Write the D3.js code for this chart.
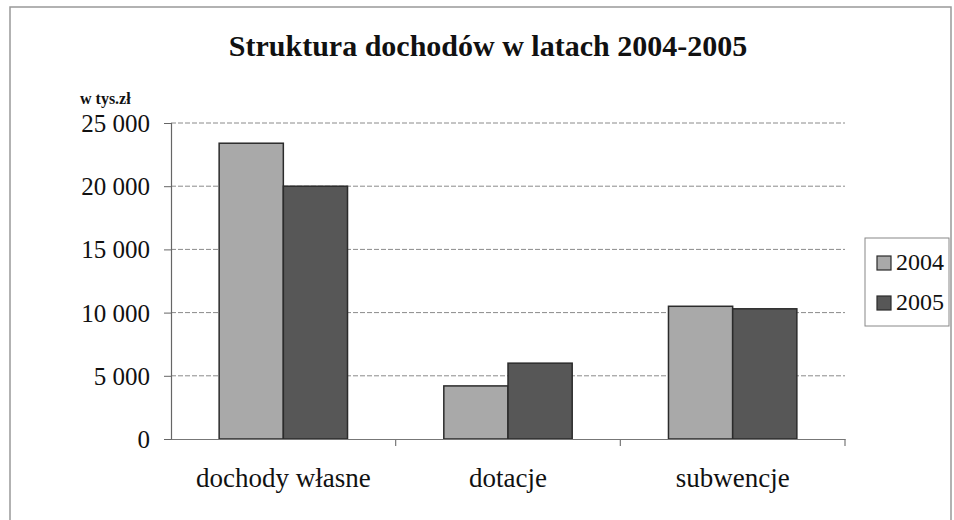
<!DOCTYPE html>
<html>
<head>
<meta charset="utf-8">
<script src="https://cdn.jsdelivr.net/npm/d3@7"></script>
<style>
  html, body { margin: 0; padding: 0; background: #fff; }
  svg { display: block; }
</style>
</head>
<body>
<svg id="chart" width="954" height="520"></svg>
<script>
const categories = ["dochody własne", "dotacje", "subwencje"];
const seriesNames = ["2004", "2005"];
const values2004 = [23400, 4200, 10500];
const values2005 = [20000, 6000, 10300];
const yTicks = [0, 5000, 10000, 15000, 20000, 25000];
const yTickLabels = ["0", "5 000", "10 000", "15 000", "20 000", "25 000"];
const titleText = "Struktura dochodów w latach 2004-2005";
const unitText = "w tys.zł";

const colors = ["#a9a9a9", "#575757"];
const serif = "'Liberation Serif', 'Times New Roman', serif";

const svg = d3.select("#chart");

// outer frame
svg.append("rect").attr("x", 10).attr("y", 7).attr("width", 941).attr("height", 520)
  .attr("fill", "#fff").attr("stroke", "#999").attr("stroke-width", 1.5);

const plot = { left: 171, right: 845, top: 123, bottom: 439 };

const x0 = d3.scaleBand().domain(categories).range([plot.left, plot.right]).paddingInner(0).paddingOuter(0);
const x1 = d3.scaleBand().domain(seriesNames).range([0, x0.bandwidth()]).paddingOuter(0.75).paddingInner(0);
const y = d3.scaleLinear().domain([0, 25000]).range([plot.bottom, plot.top]);

// gridlines
svg.append("g").selectAll("line").data(yTicks.slice(1)).join("line")
  .attr("x1", plot.left).attr("x2", plot.right)
  .attr("y1", d => y(d)).attr("y2", d => y(d))
  .attr("stroke", "#8a8a8a").attr("stroke-width", 1).attr("stroke-dasharray", "5,2");

// bars
const data = categories.map((c, i) => ({ cat: c, vals: [values2004[i], values2005[i]] }));
const groups = svg.append("g").selectAll("g").data(data).join("g")
  .attr("transform", d => `translate(${x0(d.cat)},0)`);
groups.selectAll("rect").data(d => d.vals.map((v, j) => ({ v, s: seriesNames[j], j }))).join("rect")
  .attr("x", d => x1(d.s)).attr("width", x1.bandwidth())
  .attr("y", d => y(d.v)).attr("height", d => y(0) - y(d.v))
  .attr("fill", d => colors[d.j]).attr("stroke", "#2b2b2b").attr("stroke-width", 1.5);

// y axis
const yAxis = d3.axisLeft(y).tickValues(yTicks).tickFormat((d, i) => yTickLabels[i]).tickSize(7).tickPadding(14);
const gy = svg.append("g").attr("transform", `translate(${plot.left},0)`).call(yAxis);
gy.attr("font-family", null).attr("font-size", null);
gy.select(".domain").attr("stroke", "#666").attr("stroke-width", 1.2);
gy.selectAll(".tick line").attr("stroke", "#666");
gy.selectAll("text").attr("font-family", serif).attr("font-size", 25).attr("fill", "#111")
  .attr("dy", "0.34em");

// x axis
const xAxis = d3.axisBottom(x0).tickSize(0).tickPadding(0);
const gx = svg.append("g").attr("transform", `translate(0,${plot.bottom})`).call(xAxis);
gx.attr("font-family", null).attr("font-size", null);
gx.select(".domain").attr("stroke", "#777").attr("stroke-width", 1.2);
gx.selectAll("text").attr("font-family", serif).attr("font-size", 27).attr("fill", "#111")
  .attr("y", 48).attr("dy", null);
// boundary ticks
svg.append("g").selectAll("line").data(categories).join("line")
  .attr("x1", d => x0(d) + x0.bandwidth()).attr("x2", d => x0(d) + x0.bandwidth())
  .attr("y1", plot.bottom).attr("y2", plot.bottom + 7)
  .attr("stroke", "#777").attr("stroke-width", 1.2);

// title
svg.append("text").attr("x", 488).attr("y", 56).attr("text-anchor", "middle")
  .attr("font-family", serif).attr("font-weight", "bold").attr("font-size", 30)
  .attr("fill", "#111").text(titleText);

svg.append("text").attr("x", 80).attr("y", 104)
  .attr("font-family", serif).attr("font-weight", "bold").attr("font-size", 16)
  .attr("fill", "#111").text(unitText);

// legend
const lg = svg.append("g");
lg.append("rect").attr("x", 865).attr("y", 238).attr("width", 84).attr("height", 88)
  .attr("fill", "#fff").attr("stroke", "#888").attr("stroke-width", 1);
const items = lg.selectAll("g").data(seriesNames).join("g")
  .attr("transform", (d, i) => `translate(877,${256 + i * 40})`);
items.append("rect").attr("width", 14).attr("height", 14)
  .attr("fill", (d, i) => colors[i]).attr("stroke", "#2b2b2b").attr("stroke-width", 1.2);
items.append("text").attr("x", 19).attr("y", 14)
  .attr("font-family", serif).attr("font-size", 24).attr("fill", "#111").text(d => d);
</script>
</body>
</html>
